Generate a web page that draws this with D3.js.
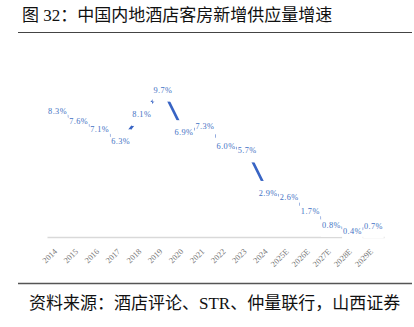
<!DOCTYPE html>
<html><head><meta charset="utf-8">
<script src="https://cdn.jsdelivr.net/npm/d3@7"></script>
<style>
html,body{margin:0;padding:0;background:#fff;}
svg{display:block;}
</style></head>
<body>
<script>
const title = "图 32：中国内地酒店客房新增供应量增速";
const source = "资料来源：酒店评论、STR、仲量联行，山西证券";
const years = ["2014","2015","2016","2017","2018","2019","2020","2021","2022","2023","2024","2025E","2026E","2027E","2028E","2029E"];
const growth = [8.3,7.6,7.1,6.3,8.1,9.7,6.9,7.3,6.0,5.7,2.9,2.6,1.7,0.8,0.4,0.7];

const W = 414, H = 327;
const svg = d3.select("body").append("svg").attr("width", W).attr("height", H);
const serifCJK = "'Liberation Serif','Times New Roman','Noto Sans CJK SC',serif";

// title
svg.append("text").attr("x", 22).attr("y", 21)
  .attr("font-family", serifCJK).attr("font-size", 17).attr("fill", "#111")
  .text(title);
svg.append("line").attr("x1", 18).attr("x2", 412).attr("y1", 32.5).attr("y2", 32.5)
  .attr("stroke", "#444").attr("stroke-width", 1);

// scales
const x = d3.scaleBand().domain(years).range([47, 384]);
const y = d3.scaleLinear().domain([0, 12]).range([237, 54.7]);

const data = years.map((yr, i) => ({yr, v: growth[i]}));

// axis
const axis = d3.axisBottom(x).tickSize(0).tickPadding(0);
const gAx = svg.append("g").attr("transform", "translate(0,237)").call(axis);
gAx.select(".domain").attr("stroke", "#d9d9d9").attr("stroke-width", 1.5);
gAx.selectAll(".tick text")
  .attr("font-family", serifCJK).attr("font-size", 8.3).attr("fill", "#777")
  .attr("text-anchor", "end")
  .attr("transform", "translate(-2,13) rotate(-45)")
  .attr("dy", "0.35em");

// line
const line = d3.line().x(d => x(d.yr) + x.bandwidth() / 2).y(d => y(d.v));
svg.append("path").datum(data).attr("d", line)
  .attr("fill", "none").attr("stroke", "#3864c4").attr("stroke-width", 2.6)
  .attr("stroke-linecap", "round").attr("stroke-linejoin", "round");

// labels with white backgrounds
const lab = svg.append("g").selectAll("g").data(data).join("g")
  .attr("transform", d => `translate(${x(d.yr) + x.bandwidth() / 2},${y(d.v)})`);
lab.append("rect").attr("x", -10.3).attr("y", -12).attr("width", 20.6).attr("height", 24)
  .attr("fill", "#fff");
lab.append("text").attr("text-anchor", "middle").attr("dy", "0.35em")
  .attr("font-family", serifCJK).attr("font-size", 8.3).attr("fill", "#4472c4")
  .attr("letter-spacing", 0.4)
  .text(d => d.v.toFixed(1) + "%");

// bottom rule & source
svg.append("line").attr("x1", 18).attr("x2", 412).attr("y1", 283.5).attr("y2", 283.5)
  .attr("stroke", "#555").attr("stroke-width", 1.3);
svg.append("text").attr("x", 29).attr("y", 309)
  .attr("font-family", serifCJK).attr("font-size", 17).attr("fill", "#111")
  .text(source);
</script>
</body></html>
